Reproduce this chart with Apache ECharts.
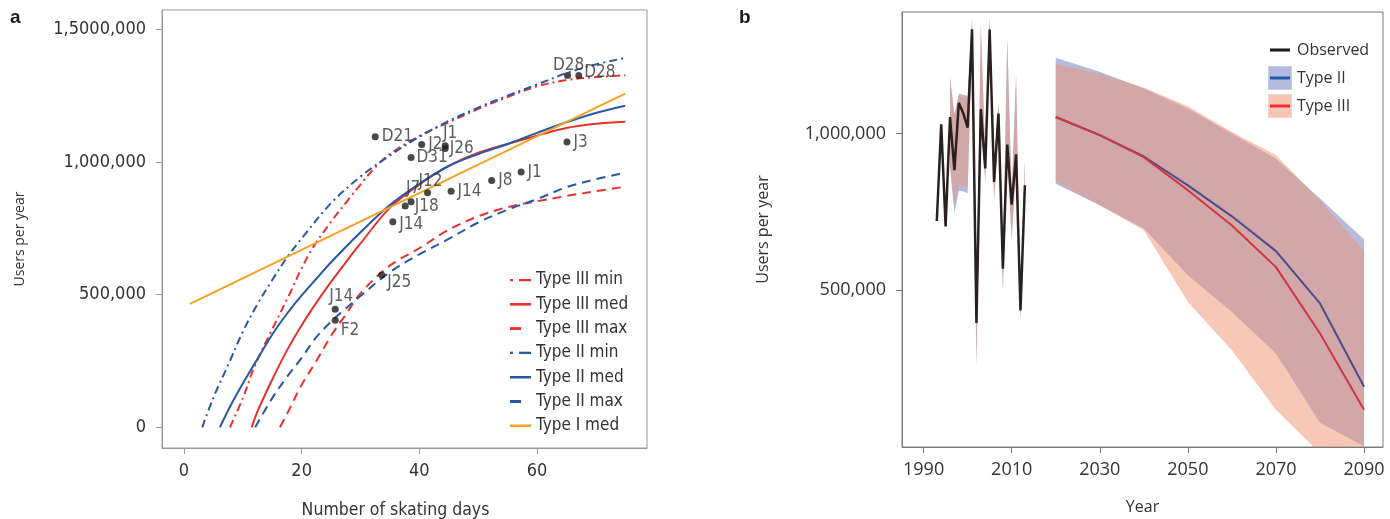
<!DOCTYPE html>
<html>
<head>
<meta charset="utf-8">
<script src="https://cdn.jsdelivr.net/npm/echarts@6/dist/echarts.min.js"></script>
<style>
html,body{margin:0;padding:0;background:#fff;}
#chart{width:1390px;height:519px;}
</style>
</head>
<body>
<div id="chart"></div>
<script>
// ---------- Panel a data ----------
const t3minX = [7.8,10,12,15,18,20,22,25,28,30,32.5,35,40,45,50,55,60,65,70,75];
const t3minY = [0,110000,230000,370000,505000,600000,680000,775000,860000,915000,980000,1030000,1098000,1150000,1200000,1245000,1285000,1309000,1320000,1327000];
const t3medX = [11.5,12.5,15,17.5,20,22.5,25,27.5,30,35,40,45,50,55,60,65,70,75];
const t3medY = [0,60000,180000,290000,385000,470000,548000,622000,693000,828000,915000,985000,1035000,1068000,1099000,1128000,1144000,1152000];
const t3maxX = [16.3,17.5,20,22.5,25,27.5,30,35,40,45,50,55,60,65,70,75];
const t3maxY = [0,50000,160000,250000,345000,425000,505000,610000,675000,745000,795000,830000,852000,872000,890000,907000];
const t2minX = [3.1,5,7.5,10,12.5,15,17.5,20,25,30,35,40,45,50,55,60,65,70,75];
const t2minY = [0,112000,235000,360000,465000,555000,640000,712000,845000,945000,1025000,1095000,1155000,1205000,1250000,1292000,1335000,1368000,1392000];
const t2medX = [6.1,8,10,12.5,15,17.5,20,22.5,25,30,35,40,45,50,55,60,65,70,75];
const t2medY = [0,85000,165000,258000,350000,428000,497000,560000,622000,735000,838000,918000,985000,1030000,1068000,1110000,1150000,1185000,1212000];
const t2maxX = [12.1,15,17.5,20,22.5,25,27.5,30,35,40,45,50,55,60,65,70,75];
const t2maxY = [0,110000,190000,262000,340000,398000,448000,495000,585000,652000,710000,772000,820000,860000,905000,935000,960000];
const t1medX = [1,40,75];
const t1medY = [465000,883000,1258000];

const ptX = [65.2,67.1,65.1,57.3,52.3,45.4,44.4,44.4,40.4,32.5,38.6,41.4,38.6,37.6,35.5,33.6,25.7,25.7];
const ptY = [1326000,1326000,1075000,962000,930000,890000,1061000,1051000,1066000,1095000,1017000,884000,850000,834000,775000,574000,445000,404000];
const ptLabels = ['D28','D28','J3','J1','J8','J14','J1','J26','J2','D21','D31','J12','J7','J18','J14','J25','J14','F2'];

const xTicksA = [0,20,40,60];
const yTicksA = [0,500000,1000000,1500000];
const yTickLabelsA = ['0','500,000','1,000,000','1,5000,000'];

// ---------- Panel b data ----------
const obsYears = [1993,1994,1995,1996,1997,1998,1999,2000,2001,2002,2003,2004,2005,2006,2007,2008,2009,2010,2011,2012,2013];
const obsVals  = [721000,1030000,704000,1053000,883000,1098000,1065000,1019000,1333000,396000,1078000,889000,1332000,846000,1064000,569000,965000,773000,934000,436000,835000];

const fitYears = [1996,1997,1998,1999,2000,2001,2002,2003,2004,2005,2006,2007,2008,2009,2010,2011,2012,2013];
const fitIIUpper  = [1180000,1062000,1128000,1124000,1120000,1366000,440000,1350000,930000,1370000,900000,1100000,600000,1303000,810000,1186000,470000,922000];
const fitIILower  = [890000,745000,818000,815000,810000,1290000,265000,1040000,845000,1295000,785000,1015000,495000,925000,660000,890000,405000,785000];
const fitIIIUpper = [1175000,1060000,1120000,1117000,1112000,1368000,440000,1345000,930000,1372000,900000,1100000,600000,1300000,810000,1186000,468000,918000];
const fitIIILower = [900000,770000,838000,832000,828000,1292000,255000,1045000,850000,1300000,790000,1020000,505000,930000,675000,895000,410000,790000];

const projYears = [2020,2030,2040,2050,2060,2070,2080,2090];
const projIIMed = [1053000,995000,927000,835000,736000,625000,458000,192000];
const projIIIMed = [1053000,995000,925000,819000,707000,574000,362000,119000];
const projIIUpper = [1242000,1197000,1144000,1080000,1000000,920000,793000,662000];
const projIILower = [840000,771000,697000,548000,431000,298000,77000,2000];
const projIIIUpper = [1223000,1191000,1147000,1087000,1005000,931000,787000,625000];
const projIIILower = [846000,771000,692000,463000,309000,119000,-20000,-200000];

const xTicksB = [1990,2010,2030,2050,2070,2090];
const yTicksB = [500000,1000000];

// ---------- styles ----------
const RED = '#e8302c', BLUE = '#2758a6', ORANGE = '#f6a124';
const NARROW = "'Liberation Sans Narrow','DejaVu Sans Condensed',sans-serif";
const SANS = "'Open Sans','Lato',sans-serif";
const DASHDOT = [8,4,2,4];
const DASH = [9,6];
const BAND2 = 'rgba(105,121,189,0.5)';
const BAND3 = 'rgba(239,145,111,0.5)';
// label placement for the points: [position, dx, dy]
const ptLabelStyle = [['top',1,5],['right',-1,-3],['right',0,0],['right',0,0],['right',0,0],['right',0,0],['top',5,3],['right',-2,0],['right',0,0],['right',0,0],['right',-1,0],['top',3,4],['top',2,2],['right',3,1],['right',0,3],['right',-1,8],['top',6,2],['right',-1,10]];

function pairs(xs, ys){ return xs.map((x,i)=>[x, ys[i]]); }

function curve(name, xs, ys, color, type){
  return {
    name, type:'line', xAxisIndex:0, yAxisIndex:0, data:pairs(xs,ys),
    smooth:0.35, symbol:'none', color,
    lineStyle:{color, width:2, type}
  };
}

function band(name, years, upper, lower, color){
  return {
    name, type:'custom', coordinateSystem:'cartesian2d', xAxisIndex:1, yAxisIndex:1,
    data:[[years[0], lower[0]]], clip:true, silent:true, z:1, color,
    renderItem:function(params, api){
      const top = years.map((y,i)=>api.coord([y, upper[i]]));
      const bot = years.map((y,i)=>api.coord([y, lower[i]])).reverse();
      return {type:'polygon', shape:{points:top.concat(bot)}, style:{fill:color}};
    }
  };
}

function svgIcon(w, h, body){
  return 'image://data:image/svg+xml;charset=utf-8,' + encodeURIComponent('<svg xmlns="http://www.w3.org/2000/svg" width="'+w+'" height="'+h+'">'+body+'</svg>');
}
const iconSolid = c => svgIcon(21,3,'<rect x="0" y="0" width="21" height="3" fill="'+c+'"/>');
const iconDashDot = c => svgIcon(21,3,'<rect x="0" y="0" width="3" height="3" fill="'+c+'"/><rect x="9" y="0" width="12" height="3" fill="'+c+'"/>');
const iconDash = c => svgIcon(21,3,'<rect x="0" y="0" width="11" height="3" fill="'+c+'"/>');
const iconObs = svgIcon(24,24,'<rect x="2" y="10.5" width="20" height="3" fill="#1a1a1a"/>');
const iconII = svgIcon(24,24,'<rect x="0.5" y="0.5" width="23" height="23" fill="rgb(180,187,222)" stroke="rgb(198,204,232)"/><rect x="2" y="10.5" width="20" height="3" fill="#2758a6"/>');
const iconIII = svgIcon(24,24,'<rect x="0.5" y="0.5" width="23" height="23" fill="rgb(246,197,180)" stroke="rgb(250,212,198)"/><rect x="2" y="10.5" width="20" height="3" fill="#e8302c"/>');

const chart = echarts.init(document.getElementById('chart'), null, {renderer:'canvas'});

const series = [
  curve('Type III min', t3minX, t3minY, RED, DASHDOT),
  curve('Type III med', t3medX, t3medY, RED, 'solid'),
  curve('Type III max', t3maxX, t3maxY, RED, DASH),
  curve('Type II min', t2minX, t2minY, BLUE, DASHDOT),
  curve('Type II med', t2medX, t2medY, BLUE, 'solid'),
  curve('Type II max', t2maxX, t2maxY, BLUE, DASH),
  curve('Type I med', t1medX, t1medY, ORANGE, 'solid'),
  {
    name:'points', type:'scatter', xAxisIndex:0, yAxisIndex:0, symbolSize:7,
    itemStyle:{color:'#1a1a1a'}, z:5,
    data: ptX.map((x,i)=>({
      value:[x, ptY[i]],
      label:{show:true, formatter:ptLabels[i], position:ptLabelStyle[i][0], offset:[ptLabelStyle[i][1], ptLabelStyle[i][2]], distance:3,
        fontFamily:NARROW, fontSize:17, color:'#333'}
    }))
  },
  // panel b
  band('fit II', fitYears, fitIIUpper, fitIILower, BAND2),
  band('fit III', fitYears, fitIIIUpper, fitIIILower, BAND3),
  band('Type II', projYears, projIIUpper, projIILower, BAND2),
  band('Type III', projYears, projIIIUpper, projIIILower, BAND3),
  {name:'Type II median', type:'line', xAxisIndex:1, yAxisIndex:1, data:pairs(projYears, projIIMed), symbol:'none',
   lineStyle:{color:'#4f4b8e', width:2}, z:3},
  {name:'Type III median', type:'line', xAxisIndex:1, yAxisIndex:1, data:pairs(projYears, projIIIMed), symbol:'none',
   lineStyle:{color:'#cf3640', width:2}, z:3},
  {name:'Observed', type:'line', xAxisIndex:1, yAxisIndex:1, data:pairs(obsYears, obsVals), symbol:'none',
   lineStyle:{color:'#2a2020', width:2.5}, color:'#1a1a1a', z:4}
];

const axisLineA = {show:true, onZero:false, lineStyle:{color:'#9a9a9a', width:1}};
const axisLineB = {show:true, onZero:false, lineStyle:{color:'#7a7a7a', width:1}};

const option = {
  animation:false,
  backgroundColor:'#fff',
  graphic:[
    {type:'text', left:10, top:8, style:{text:'a', font:"bold 19px 'Liberation Sans',sans-serif", fill:'#1a1a1a'}},
    {type:'text', left:739, top:8, style:{text:'b', font:"bold 19px 'Liberation Sans',sans-serif", fill:'#1a1a1a'}}
  ],
  grid:[
    {left:162, top:10, right:743, bottom:71, show:true, borderColor:'#9a9a9a', borderWidth:1, backgroundColor:'transparent', outerBoundsMode:'none', containLabel:false},
    {left:902, top:12, right:7, bottom:72, show:true, borderColor:'#7a7a7a', borderWidth:1, backgroundColor:'transparent', outerBoundsMode:'none', containLabel:false}
  ],
  legend:[
    {
      orient:'vertical', left:505, top:265, itemWidth:21, itemHeight:3, itemGap:4.3,
      data:[
        {name:'Type III min', icon:iconDashDot(RED)},
        {name:'Type III med', icon:iconSolid(RED)},
        {name:'Type III max', icon:iconDash(RED)},
        {name:'Type II min', icon:iconDashDot(BLUE)},
        {name:'Type II med', icon:iconSolid(BLUE)},
        {name:'Type II max', icon:iconDash(BLUE)},
        {name:'Type I med', icon:iconSolid(ORANGE)}
      ],
      textStyle:{fontFamily:NARROW, fontSize:17, color:'#333', lineHeight:20},
      selectedMode:false
    },
    {
      orient:'vertical', left:1263, top:33, itemWidth:24, itemHeight:24, itemGap:4,
      data:[{name:'Observed', icon:iconObs},{name:'Type II', icon:iconII},{name:'Type III', icon:iconIII}],
      textStyle:{fontFamily:SANS, fontSize:16, color:'#333'}, selectedMode:false
    }
  ],
  xAxis:[
    {
      gridIndex:0, type:'value', min:-3.74, max:78.7,
      axisLine:axisLineA,
      axisTick:{show:true, length:6, lineStyle:{color:'#9a9a9a'}, customValues:xTicksA},
      axisLabel:{customValues:xTicksA, fontFamily:NARROW, fontSize:18, color:'#333', margin:14},
      splitLine:{show:false},
      name:'Number of skating days', nameLocation:'middle', nameGap:53,
      nameTextStyle:{fontFamily:NARROW, fontSize:17.5, color:'#333', padding:[0,18,0,0]}
    },
    {
      gridIndex:1, type:'value', min:1985.1, max:2094.3,
      axisLine:axisLineB,
      axisTick:{show:true, length:6, lineStyle:{color:'#7a7a7a'}, customValues:xTicksB},
      axisLabel:{customValues:xTicksB, fontFamily:SANS, fontSize:18, color:'#333', margin:14, formatter:v=>String(v)},
      splitLine:{show:false},
      name:'Year', nameLocation:'middle', nameGap:52,
      nameTextStyle:{fontFamily:SANS, fontSize:16, color:'#333'}
    }
  ],
  yAxis:[
    {
      gridIndex:0, type:'value', min:-78000, max:1573000,
      axisLine:axisLineA,
      axisTick:{show:true, length:6, lineStyle:{color:'#9a9a9a'}, customValues:yTicksA},
      axisLabel:{customValues:yTicksA, fontFamily:NARROW, fontSize:18, color:'#333', margin:16,
        formatter:v=>{const i=yTicksA.indexOf(v); return i>=0?yTickLabelsA[i]:'';}},
      splitLine:{show:false},
      name:'Users per year', nameLocation:'middle', nameGap:135,
      nameTextStyle:{fontFamily:SANS, fontSize:14, color:'#333', padding:[0,20,0,0]}
    },
    {
      gridIndex:1, type:'value', min:0, max:1388000,
      axisLine:axisLineB,
      axisTick:{show:true, length:6, lineStyle:{color:'#7a7a7a'}, customValues:yTicksB},
      axisLabel:{customValues:yTicksB, fontFamily:SANS, fontSize:18, color:'#333', margin:16,
        formatter:v=>v.toLocaleString('en-US')},
      splitLine:{show:false},
      name:'Users per year', nameLocation:'middle', nameGap:131,
      nameTextStyle:{fontFamily:SANS, fontSize:16, color:'#333'}
    }
  ],
  series
};
chart.setOption(option);
</script>
</body>
</html>
